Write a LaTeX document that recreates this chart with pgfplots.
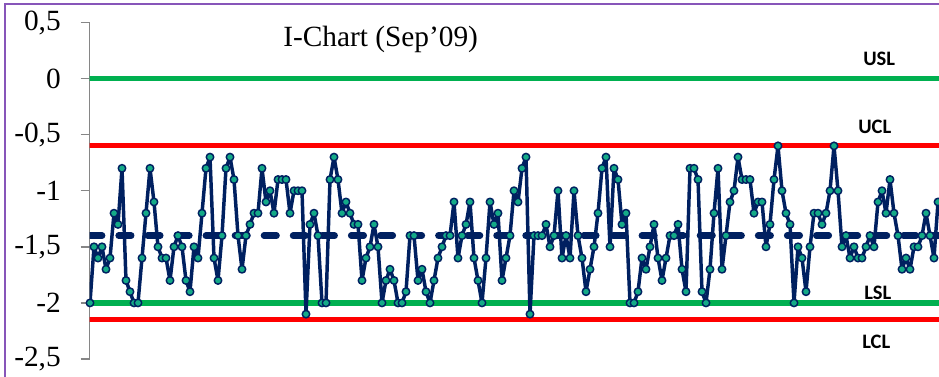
\documentclass[border=0pt]{standalone}
\usepackage{pgfplots}
\pgfplotsset{compat=1.18}
\usepackage{pgfplotstable}
\usepackage{fontspec}
\setmainfont{Liberation Serif}
\newfontfamily\lblfont{Carlito}
\definecolor{navy}{RGB}{0,32,96}
\definecolor{xlgreen}{RGB}{0,176,80}
\definecolor{xlred}{RGB}{255,0,0}
\definecolor{markteal}{RGB}{20,170,135}
\definecolor{framepurple}{RGB}{135,85,185}
\definecolor{axisgray}{RGB}{134,134,134}

\pgfplotstableread{
x y
0 -2.0
1 -1.5
2 -1.6
3 -1.5
4 -1.7
5 -1.6
6 -1.2
7 -1.3
8 -0.8
9 -1.8
10 -1.9
11 -2.0
12 -2.0
13 -1.6
14 -1.2
15 -0.8
16 -1.1
17 -1.5
18 -1.6
19 -1.6
20 -1.8
21 -1.5
22 -1.4
23 -1.5
24 -1.8
25 -1.9
26 -1.5
27 -1.6
28 -1.2
29 -0.8
30 -0.7
31 -1.6
32 -1.8
33 -1.4
34 -0.8
35 -0.7
36 -0.9
37 -1.4
38 -1.7
39 -1.4
40 -1.3
41 -1.2
42 -1.2
43 -0.8
44 -1.1
45 -1.0
46 -1.2
47 -0.9
48 -0.9
49 -0.9
50 -1.2
51 -1.0
52 -1.0
53 -1.0
54 -2.1
55 -1.3
56 -1.2
57 -1.4
58 -2.0
59 -2.0
60 -0.9
61 -0.7
62 -0.9
63 -1.2
64 -1.1
65 -1.2
66 -1.3
67 -1.3
68 -1.8
69 -1.6
70 -1.5
71 -1.3
72 -1.5
73 -2.0
74 -1.8
75 -1.7
76 -1.8
77 -2.0
78 -2.0
79 -1.9
80 -1.4
81 -1.4
82 -1.8
83 -1.7
84 -1.9
85 -2.0
86 -1.8
87 -1.6
88 -1.5
89 -1.4
90 -1.4
91 -1.1
92 -1.6
93 -1.4
94 -1.3
95 -1.1
96 -1.6
97 -1.8
98 -2.0
99 -1.6
100 -1.1
101 -1.3
102 -1.2
103 -1.8
104 -1.6
105 -1.4
106 -1.0
107 -1.1
108 -0.8
109 -0.7
110 -2.1
111 -1.4
112 -1.4
113 -1.4
114 -1.3
115 -1.5
116 -1.4
117 -1.0
118 -1.6
119 -1.4
120 -1.6
121 -1.0
122 -1.4
123 -1.6
124 -1.9
125 -1.7
126 -1.5
127 -1.2
128 -0.8
129 -0.7
130 -1.5
131 -0.8
132 -0.9
133 -1.3
134 -1.2
135 -2.0
136 -2.0
137 -1.9
138 -1.6
139 -1.7
140 -1.5
141 -1.3
142 -1.6
143 -1.8
144 -1.6
145 -1.4
146 -1.4
147 -1.3
148 -1.7
149 -1.9
150 -0.8
151 -0.8
152 -0.9
153 -1.9
154 -2.0
155 -1.7
156 -1.2
157 -0.8
158 -1.7
159 -1.4
160 -1.1
161 -1.0
162 -0.7
163 -0.9
164 -0.9
165 -0.9
166 -1.2
167 -1.1
168 -1.1
169 -1.5
170 -1.3
171 -0.9
172 -0.6
173 -1.0
174 -1.2
175 -1.3
176 -2.0
177 -1.5
178 -1.6
179 -1.9
180 -1.5
181 -1.2
182 -1.2
183 -1.3
184 -1.2
185 -1.0
186 -0.6
187 -1.0
188 -1.5
189 -1.4
190 -1.6
191 -1.5
192 -1.6
193 -1.6
194 -1.5
195 -1.4
196 -1.5
197 -1.1
198 -1.0
199 -1.2
200 -0.9
201 -1.2
202 -1.4
203 -1.7
204 -1.6
205 -1.7
206 -1.5
207 -1.5
208 -1.4
209 -1.2
210 -1.4
211 -1.6
212 -1.1
}\datatable

\pgfplotstableread{
x y
-1 0
230 0
}\usl
\pgfplotstableread{
x y
-1 -0.6
230 -0.6
}\ucl
\pgfplotstableread{
x y
-1 -2.0
230 -2.0
}\lsl
\pgfplotstableread{
x y
-1 -2.15
230 -2.15
}\lcl
\pgfplotstableread{
x y
-0.1 -1.4
230 -1.4
}\cl

\begin{document}
\begin{tikzpicture}[x=0.75pt,y=0.75pt]
\useasboundingbox (0,0) rectangle (939,376);
\draw[framepurple, line width=1.4pt] (5,-20) -- (5,372) -- (960,372);
\begin{axis}[
  at={(67.2pt,12.75pt)}, anchor=south west,
  scale only axis,
  width=637.05pt, height=252.375pt,
  xmin=-0.1, xmax=212.25,
  ymin=-2.5, ymax=0.5,
  axis x line=none,
  axis y line*=left,
  y axis line style={-, axisgray, line width=1.1pt},
  ytick={-2.5,-2,-1.5,-1,-0.5,0,0.5},
  yticklabels={{-2,5},{-2},{-1,5},{-1},{-0,5},{0},{0,5}},
  ytick style={axisgray, line width=1.1pt},
  tick align=outside,
  major tick length=6.75pt,
  yticklabel style={font=\fontsize{22}{26}\selectfont, anchor=east, inner sep=0pt, xshift=-14.7pt},
  clip=true,
]
\addplot[xlgreen, line width=4.2pt] table {\usl};
\addplot[xlred, line width=3.6pt] table {\ucl};
\addplot[xlgreen, line width=4.2pt] table {\lsl};
\addplot[xlred, line width=3.6pt] table {\lcl};
\addplot[navy, line width=4.9pt, line cap=round, dash pattern=on 9.4pt off 12.4pt] table {\cl};
\addplot[navy, line width=2.6pt, line join=round,
  mark=*, mark size=2.8pt,
  mark options={fill=markteal, draw=navy, line width=1.1pt, solid}] table {\datatable};
\end{axis}
\node[anchor=base west, inner sep=0pt, font=\fontsize{22}{26}\selectfont] at (283,{376-46.7}) {I-Chart (Sep’09)};
\node[anchor=base west, inner sep=0pt, font=\lblfont\bfseries\fontsize{15.4}{18}\selectfont] at (863,{376-65}) {USL};
\node[anchor=base west, inner sep=0pt, font=\lblfont\bfseries\fontsize{15.4}{18}\selectfont] at (858,{376-133}) {UCL};
\node[anchor=base west, inner sep=0pt, font=\lblfont\bfseries\fontsize{15.4}{18}\selectfont] at (864,{376-299}) {LSL};
\node[anchor=base west, inner sep=0pt, font=\lblfont\bfseries\fontsize{15.4}{18}\selectfont] at (862,{376-348}) {LCL};
\end{tikzpicture}
\end{document}
